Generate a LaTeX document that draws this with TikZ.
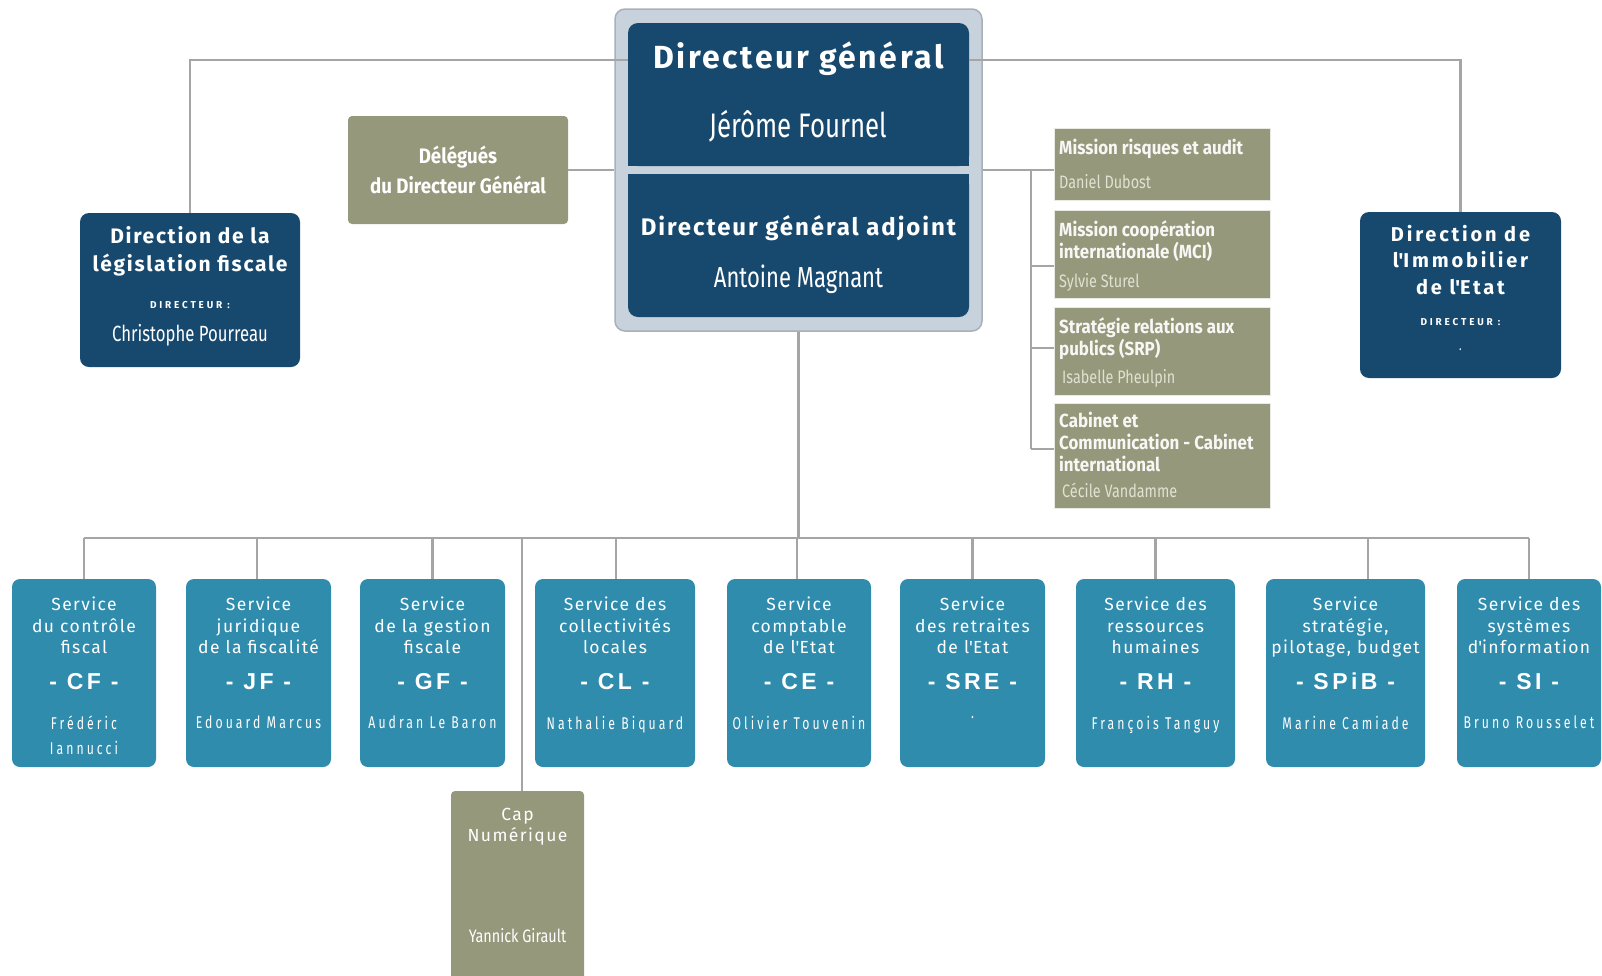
\documentclass[tikz,border=0pt]{standalone}
\usepackage{fontspec}
\setmainfont{Fira Sans}
\newfontfamily\techfont[LetterSpace=8]{Fira Sans}
\newfontfamily\widefont[LetterSpace=14]{Fira Sans}
\newfontfamily\condfont[FakeStretch=0.76]{Fira Sans}
\newfontfamily\boldcond[FakeStretch=0.89]{Fira Sans}
\newfontfamily\smallcond[FakeStretch=0.8]{Fira Sans}
\newfontfamily\namefont[FakeStretch=0.72,LetterSpace=18]{Fira Sans}
\newfontfamily\abbrfont[LetterSpace=15]{Liberation Sans}
\newfontfamily\capsfont[LetterSpace=28]{Fira Sans}
\usetikzlibrary{positioning}
\newcommand\fsz[2]{\fontsize{#1}{#2}\selectfont}
\newcommand\apos{\textquotesingle}
\definecolor{dgfnavy}{HTML}{17496F}
\definecolor{dgfteal}{HTML}{2F8CAD}
\definecolor{dgfolive}{HTML}{96987B}
\definecolor{dgfframe}{HTML}{C7D2DC}
\definecolor{dgfrim}{HTML}{A8B0B8}
\definecolor{dgfline}{HTML}{A5A5A5}
\definecolor{dgfpale}{HTML}{E2E1D2}
\tikzset{
  link/.style={draw=dgfline, line width=2.6pt},
  navybox/.style={fill=dgfnavy, rounded corners=9pt, inner sep=0pt},
  servbox/.style={fill=dgfteal, rounded corners=8pt, inner sep=0pt, minimum height=188pt},
  olivebox/.style={fill=dgfolive, rounded corners=4pt, inner sep=0pt},
  missbox/.style={fill=dgfolive, draw=white!80!dgfolive, line width=1pt, inner sep=0pt, minimum width=216pt},
  wtext/.style={text=white, inner sep=0pt, align=center},
  ptext/.style={text=dgfpale, inner sep=0pt, align=left},
}
\begin{document}
\begin{tikzpicture}[x=1pt,y=-1pt]
  \useasboundingbox (0,0) rectangle (1602,975);
  % Direction generale
  \node[fill=dgfframe, draw=dgfrim, line width=1.5pt, rounded corners=10pt,
        minimum width=367pt, minimum height=322pt] (dg) at (798.5,170) {};
  \fill[dgfnavy, rounded corners=10pt] (628,23) rectangle (969,166);
  \fill[dgfnavy] (628,100) rectangle (969,166);
  \fill[dgfnavy, rounded corners=10pt] (628,174) rectangle (969,317);
  \fill[dgfnavy] (628,174) rectangle (969,240);
  \node[wtext, font=\techfont\bfseries\fsz{32}{36}, anchor=base] (dgtitle) at (798.5,68) {Directeur général};
  \node[wtext, font=\condfont\fsz{34}{36}, anchor=base] (dgname) at (798.5,137) {Jérôme Fournel};
  \node[wtext, font=\techfont\bfseries\fsz{24}{28}, anchor=base] (dgatitle) at (798.5,235) {Directeur général adjoint};
  \node[wtext, font=\condfont\fsz{29}{32}, anchor=base] (dganame) at (798.5,287) {Antoine Magnant};
  \coordinate (dgl) at (628,60);
  \coordinate (dgr) at (969,60);
  % Delegues
  \node[olivebox, minimum width=220pt, minimum height=108pt, text=white, align=center,
        font=\boldcond\bfseries\fsz{21}{30}] (deleg) at (458,170) {Délégués\\du Directeur Général};
  % Directions laterales
  \node[navybox, minimum width=220pt, minimum height=154pt] (dlf) at (190,290) {};
  \node[wtext, font=\techfont\bfseries\fsz{21}{28}, anchor=north] (dlf-t) at (190,226) {Direction de la\\législation fiscale};
  \node[wtext, font=\capsfont\bfseries\fsz{10}{11}, anchor=base] (dlf-d) at (190,308) {DIRECTEUR :};
  \node[wtext, font=\condfont\fsz{22}{24}, anchor=base] (dlf-n) at (190,341) {Christophe Pourreau};
  \node[navybox, minimum width=201pt, minimum height=166pt] (dil) at (1460.5,295) {};
  \node[wtext, font=\widefont\bfseries\fsz{20}{26.5}, anchor=north] (dil-t) at (1460.5,225) {Direction de\\l\apos Immobilier\\de l\apos Etat};
  \node[wtext, font=\capsfont\bfseries\fsz{10}{11}, anchor=base] (dil-d) at (1460.5,325) {DIRECTEUR :};
  \node[wtext, font=\condfont\fsz{14}{16}, anchor=base] (dil-n) at (1460.5,350) {.};
  % Missions
  \foreach \nm/\yc/\h/\yt/\ttl/\yn/\who in {
    m1/164/72/139/{Mission risques et audit}/188/{Daniel Dubost},
    m2/254/88/220/{Mission coopération\\internationale (MCI)}/287/{Sylvie Sturel},
    m3/351/88/317/{Stratégie relations aux\\publics (SRP)}/383/{\,Isabelle Pheulpin},
    m4/455.5/105/412/{Cabinet et\\Communication - Cabinet\\international}/497/{\,Cécile Vandamme}}{
    \node[missbox, minimum height=\h pt] (\nm) at (1162,\yc) {};
    \node[ptext, text=white!92!dgfolive, font=\boldcond\bfseries\fsz{19}{22}, anchor=north west] (\nm-t) at (1059,\yt) {\ttl};
    \node[ptext, font=\smallcond\fsz{18}{20}, anchor=base west] (\nm-n) at (1059,\yn) {\who};
  }
  \coordinate (spine) at (1031,170);
  \draw[link] (dg.east |- spine) -- (spine) -- (spine |- 0,449);
  \foreach \nm/\yb in {m1/170, m2/266, m3/348, m4/449}
    \draw[link] (spine |- 0,\yb) -- (\nm.west |- 0,\yb);
  % Liaisons du haut
  \draw[link] (dgl) -| (dlf.north);
  \draw[link] (dgr) -| (dil.north);
  \draw[link] (deleg.east) -- (deleg.east -| dg.west);
  % Services
  \coordinate (bus) at (797,538);
  \draw[link] (dg.south) -- (dg.south |- bus);
  \foreach \nm/\xc/\w/\dx/\ttl/\ab/\who in {
    cf/84/144/0/{Service\\du contrôle\\fiscal}/CF/{Frédéric\\Iannucci},
    jf/258.5/145/-1.5/{Service\\juridique\\de la fiscalité}/JF/{Edouard Marcus},
    gf/432.5/145/0/{Service\\de la gestion\\fiscale}/GF/{Audran Le Baron},
    cl/615/160/1/{Service des\\collectivités\\locales}/CL/{Nathalie Biquard},
    ce/799/144/-2/{Service\\comptable\\de l\apos Etat}/CE/{Olivier Touvenin},
    sre/972.5/145/0/{Service\\des retraites\\de l\apos Etat}/SRE/{.},
    rh/1155.5/159/0/{Service des\\ressources\\humaines}/RH/{François Tanguy},
    spib/1345.5/159/22.5/{Service\\stratégie,\\pilotage, budget}/SPiB/{Marine Camiade},
    si/1529/144/0/{Service des\\systèmes\\d\apos information}/SI/{Bruno Rousselet}}{
    \node[servbox, minimum width=\w pt] (\nm) at (\xc,673) {};
    \node[wtext, font=\techfont\fsz{17.5}{21.5}, below=18pt of \nm.north] (\nm-t) {\ttl};
    \node[wtext, font=\abbrfont\bfseries\fsz{23}{26}, anchor=base] (\nm-a) at ([yshift=-111pt]\nm.north) {- \ab\ -};
    \node[wtext, font=\namefont\fsz{17}{25}, below=137pt of \nm.north] (\nm-n) {\who};
    \draw[link] ([xshift=\dx pt]\nm.north |- bus) -- ([xshift=\dx pt]\nm.north);
  }
  \draw[link] (cf.north |- bus) -- (si.north |- bus);
  % Cap Numerique
  \node[olivebox, minimum width=133pt, minimum height=200pt] (cap) at (517.5,891) {};
  \node[wtext, font=\techfont\fsz{17.5}{21.5}, below=17pt of cap.north] (cap-t) {Cap\\Numérique};
  \node[wtext, font=\smallcond\fsz{18}{20}, anchor=base] (cap-n) at (517.5,942) {Yannick Girault};
  \draw[link] ([xshift=4.5pt]cap.north |- bus) -- ([xshift=4.5pt]cap.north);
\end{tikzpicture}
\end{document}
